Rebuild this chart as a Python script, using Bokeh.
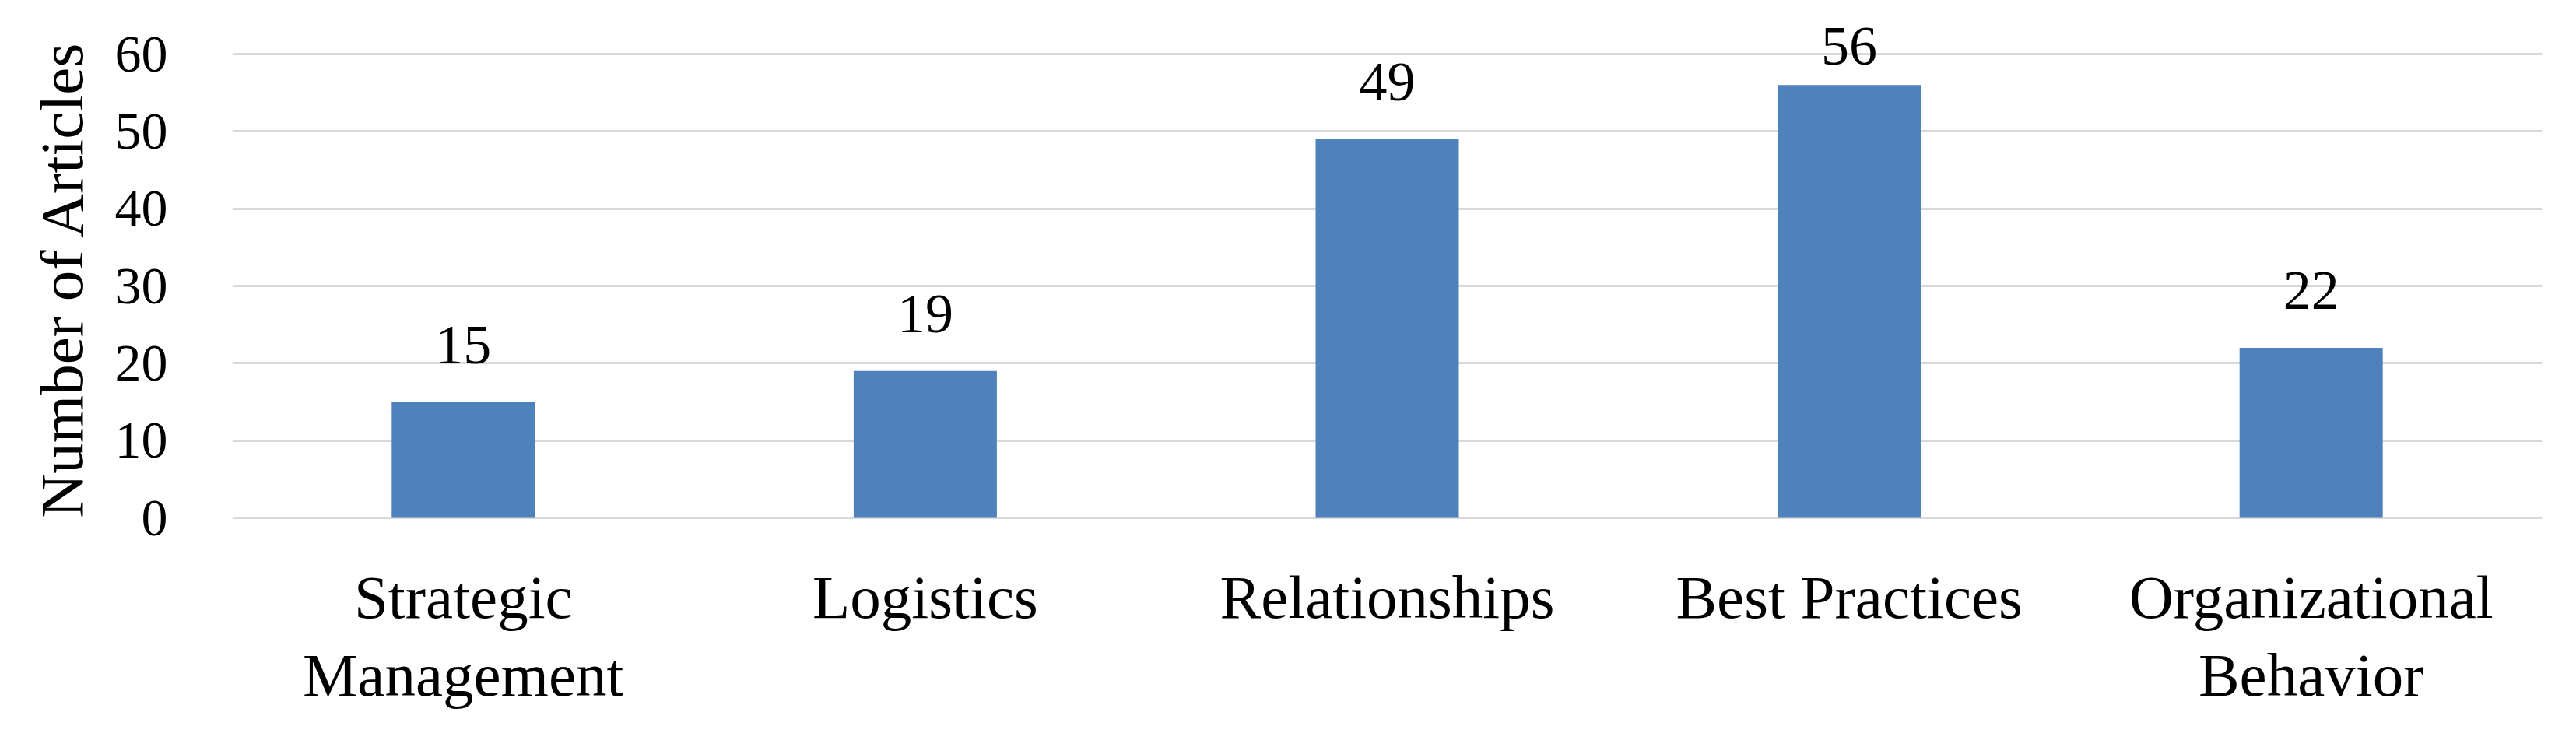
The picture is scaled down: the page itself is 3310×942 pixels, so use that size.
from bokeh.plotting import figure
from bokeh.models import Range1d, FactorRange, ColumnDataSource, LabelSet, FixedTicker, Title
from bokeh.embed import file_html
from bokeh.resources import INLINE

categories = ["Strategic Management", "Logistics", "Relationships", "Best Practices", "Organizational Behavior"]
label_line1 = ["Strategic", "Logistics", "Relationships", "Best Practices", "Organizational"]
label_line2 = ["Management", "", "", "", "Behavior"]
articles = [15, 19, 49, 56, 22]
y_ticks = [0, 10, 20, 30, 40, 50, 60]
y_title = "Number of Articles"

FONT = "Liberation Serif"
BAR = "#4F81BD"
GRID = "#D9D9D9"

W, H = 3294, 926
FRAME_L, FRAME_R = 298, 3266
ZERO_ROW = 665          # pixel row of value 0
PX_PER_UNIT = 9.933     # pixels per article

# frame spans the full height so that value and category labels are not clipped
y_lo = -(H - ZERO_ROW) / PX_PER_UNIT
y_hi = ZERO_ROW / PX_PER_UNIT

# value labels sit 50px above bar, kept inside the chart area (as Excel does)
label_y = [min(v + 50 / PX_PER_UNIT, 60 - 13 / PX_PER_UNIT) for v in articles]

src = ColumnDataSource(dict(cat=categories, val=articles, lab=[str(v) for v in articles],
                            ly=label_y, l1=label_line1, l2=label_line2, zero=[0] * len(categories)))

p = figure(width=W, height=H, x_range=FactorRange(*categories), y_range=Range1d(y_lo, y_hi),
           output_backend="svg", toolbar_location=None,
           min_border_left=FRAME_L, min_border_right=W - FRAME_R,
           min_border_top=0, min_border_bottom=0, x_axis_location=None)
p.outline_line_color = None
p.background_fill_color = "white"

p.vbar(x="cat", top="val", width=0.31, source=src, fill_color=BAR, line_color=None)

p.add_layout(LabelSet(x="cat", y="ly", text="lab", source=src,
                      text_align="center", text_baseline="alphabetic",
                      text_font=FONT, text_font_size="72px", text_color="#000000"))

for col, off in (("l1", -128), ("l2", -228)):
    p.add_layout(LabelSet(x="cat", y="zero", text=col, source=src, y_offset=off,
                          text_align="center", text_baseline="alphabetic",
                          text_font=FONT, text_font_size="79px", text_color="#000000"))

p.xgrid.grid_line_color = None
p.ygrid.ticker = FixedTicker(ticks=y_ticks)
p.ygrid.grid_line_color = GRID
p.ygrid.grid_line_width = 3

p.yaxis.ticker = FixedTicker(ticks=y_ticks)
p.yaxis.axis_line_color = None
p.yaxis.major_tick_line_color = None
p.yaxis.minor_tick_line_color = None
p.yaxis.major_label_text_font = FONT
p.yaxis.major_label_text_font_size = "68px"
p.yaxis.major_label_text_color = "#000000"
p.yaxis.major_label_standoff = 77

# y-axis title, centred on the 0-60 value span rather than on the whole frame
p.add_layout(Title(text=y_title, align="right", offset=51, standoff=44,
                   text_font=FONT, text_font_size="79px", text_font_style="normal",
                   text_color="#000000"), "left")

open("out.html", "w").write(file_html(p, INLINE))
